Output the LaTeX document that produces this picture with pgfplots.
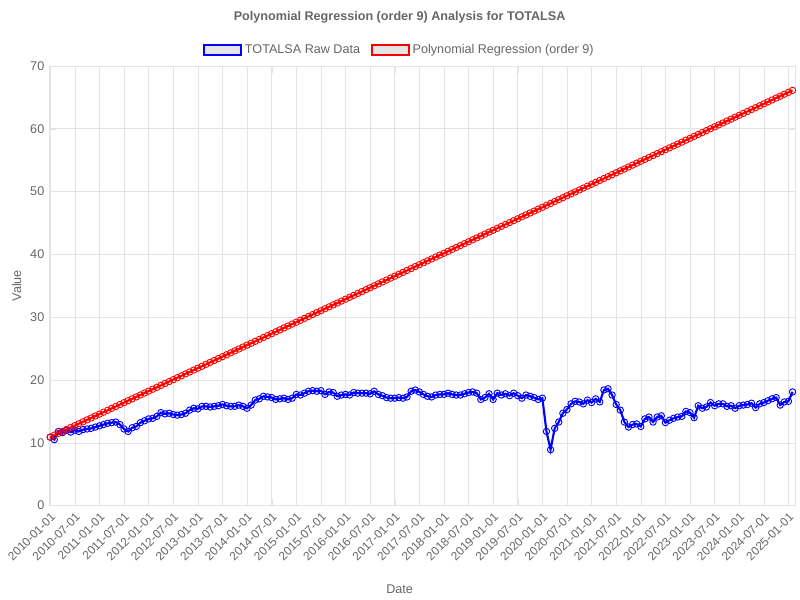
\documentclass[border=0pt]{standalone}
\usepackage{pgfplots}
\pgfplotsset{compat=1.18}
\usepackage{fontspec}
\setmainfont{Liberation Sans}
\definecolor{tgray}{HTML}{666666}
\definecolor{ggray}{HTML}{E4E4E4}
\begin{document}
\begin{tikzpicture}
\useasboundingbox (-36.75bp,-70.5bp) rectangle (563.75bp,379.5bp);
\begin{axis}[at={(0,0)},anchor=south west,scale only axis,width=560bp,height=330bp,
 xmin=-0.3,xmax=181.6,ymin=0,ymax=70,ytick={0,10,...,70},
 xtick={0,6,...,180},
 xticklabels={2010-01-01,2010-07-01,2011-01-01,2011-07-01,2012-01-01,2012-07-01,2013-01-01,2013-07-01,2014-01-01,2014-07-01,2015-01-01,2015-07-01,2016-01-01,2016-07-01,2017-01-01,2017-07-01,2018-01-01,2018-07-01,2019-01-01,2019-07-01,2020-01-01,2020-07-01,2021-01-01,2021-07-01,2022-01-01,2022-07-01,2023-01-01,2023-07-01,2024-01-01,2024-07-01,2025-01-01},
 x tick label style={rotate=45,anchor=north east,font=\fontsize{9}{10}\selectfont,text=tgray},
 y tick label style={font=\fontsize{9.5}{10}\selectfont,text=tgray},
 /pgf/number format/assume math mode=true,
 grid=both,grid style={ggray},axis line style={ggray},tick style={ggray},
 major tick length=5bp,
 xlabel={Date},ylabel={Value},
 label style={font=\fontsize{9.5}{11}\selectfont,text=tgray},
 xlabel style={at={(axis description cs:0.47,0)},anchor=center,yshift=-63bp},
 legend style={at={(0.47,1.036)},anchor=center,draw=none,legend columns=2,font=\fontsize{9.5}{11}\selectfont,text=tgray,/tikz/every even column/.append style={column sep=6bp}},
 legend image code/.code={\draw[#1,line width=1.5pt,fill=black!10] (0bp,-4bp) rectangle (28bp,4bp);},
 clip=false]
\addplot[blue,line width=1.6pt,mark=o,mark size=2.4pt,mark options={line width=0.7pt,fill=blue!20},forget plot] table[row sep=\\,x expr=\coordindex,y index=0]{y\\
10.9\\10.5\\11.8\\11.6\\12.0\\11.7\\12.0\\11.8\\12.1\\12.2\\12.3\\12.5\\
12.7\\12.9\\13.1\\13.2\\13.3\\12.9\\12.2\\11.8\\12.4\\12.6\\13.2\\13.5\\
13.8\\13.9\\14.2\\14.8\\14.6\\14.7\\14.5\\14.4\\14.5\\14.7\\15.2\\15.5\\
15.4\\15.8\\15.8\\15.7\\15.8\\15.9\\16.1\\15.9\\15.8\\15.8\\16.0\\15.8\\
15.5\\16.0\\16.8\\17.0\\17.4\\17.3\\17.2\\16.9\\17.0\\17.1\\16.9\\17.1\\
17.7\\17.6\\17.9\\18.2\\18.3\\18.2\\18.3\\17.7\\18.1\\18.0\\17.4\\17.6\\
17.7\\17.6\\18.0\\17.9\\17.9\\17.9\\17.8\\18.2\\17.7\\17.5\\17.2\\17.1\\
17.1\\17.2\\17.1\\17.3\\18.2\\18.4\\18.1\\17.7\\17.4\\17.3\\17.6\\17.7\\
17.7\\17.9\\17.7\\17.6\\17.6\\17.8\\18.0\\18.1\\17.9\\16.9\\17.2\\17.8\\
16.9\\17.9\\17.6\\17.8\\17.5\\17.9\\17.5\\17.1\\17.6\\17.4\\17.2\\16.9\\
17.1\\11.8\\8.9\\12.3\\13.3\\14.7\\15.3\\16.2\\16.6\\16.5\\16.2\\16.8\\
16.4\\17.0\\16.5\\18.4\\18.6\\17.6\\16.1\\15.2\\13.3\\12.5\\12.9\\13.0\\
12.6\\13.8\\14.1\\13.3\\14.1\\14.3\\13.2\\13.6\\13.9\\14.1\\14.2\\15.0\\
14.8\\14.0\\15.9\\15.5\\15.7\\16.4\\15.9\\16.2\\16.2\\15.8\\15.9\\15.5\\
15.9\\16.0\\16.1\\16.3\\15.6\\16.2\\16.4\\16.7\\17.0\\17.2\\16.0\\16.5\\
16.6\\18.1\\
};
\addplot[red,line width=1.6pt,mark=o,mark size=2.4pt,mark options={line width=0.7pt,fill=red!20},forget plot] table[row sep=\\,x expr=\coordindex,y index=0]{y\\
10.90\\11.21\\11.51\\11.82\\12.12\\12.43\\12.73\\13.04\\13.34\\13.65\\13.95\\14.26\\
14.56\\14.87\\15.17\\15.48\\15.78\\16.09\\16.39\\16.70\\17.00\\17.31\\17.61\\17.92\\
18.22\\18.53\\18.83\\19.14\\19.44\\19.75\\20.05\\20.36\\20.66\\20.97\\21.27\\21.58\\
21.88\\22.19\\22.49\\22.80\\23.10\\23.41\\23.71\\24.02\\24.32\\24.63\\24.93\\25.24\\
25.54\\25.85\\26.15\\26.46\\26.76\\27.07\\27.37\\27.68\\27.98\\28.29\\28.59\\28.90\\
29.20\\29.51\\29.81\\30.12\\30.42\\30.73\\31.03\\31.34\\31.64\\31.95\\32.25\\32.56\\
32.86\\33.17\\33.47\\33.78\\34.08\\34.39\\34.69\\35.00\\35.30\\35.61\\35.91\\36.22\\
36.52\\36.83\\37.13\\37.44\\37.74\\38.05\\38.35\\38.66\\38.96\\39.27\\39.57\\39.88\\
40.18\\40.49\\40.79\\41.10\\41.40\\41.71\\42.01\\42.32\\42.62\\42.93\\43.23\\43.54\\
43.84\\44.15\\44.45\\44.76\\45.06\\45.37\\45.67\\45.98\\46.28\\46.59\\46.89\\47.20\\
47.50\\47.81\\48.11\\48.42\\48.72\\49.03\\49.33\\49.64\\49.94\\50.25\\50.55\\50.86\\
51.16\\51.47\\51.77\\52.08\\52.38\\52.69\\52.99\\53.30\\53.60\\53.91\\54.21\\54.52\\
54.82\\55.13\\55.43\\55.74\\56.04\\56.35\\56.65\\56.96\\57.26\\57.57\\57.87\\58.18\\
58.48\\58.79\\59.09\\59.40\\59.70\\60.01\\60.31\\60.62\\60.92\\61.23\\61.53\\61.84\\
62.14\\62.45\\62.75\\63.06\\63.36\\63.67\\63.97\\64.28\\64.58\\64.89\\65.19\\65.50\\
65.80\\66.11\\
};
\addlegendimage{blue}\addlegendentry{TOTALSA Raw Data}
\addlegendimage{red}\addlegendentry{Polynomial Regression (order 9)}
\node[font=\bfseries\fontsize{9.5}{11}\selectfont,text=tgray] at (rel axis cs:0.47,1.11) {Polynomial Regression (order 9) Analysis for TOTALSA};
\end{axis}
\end{tikzpicture}
\end{document}
